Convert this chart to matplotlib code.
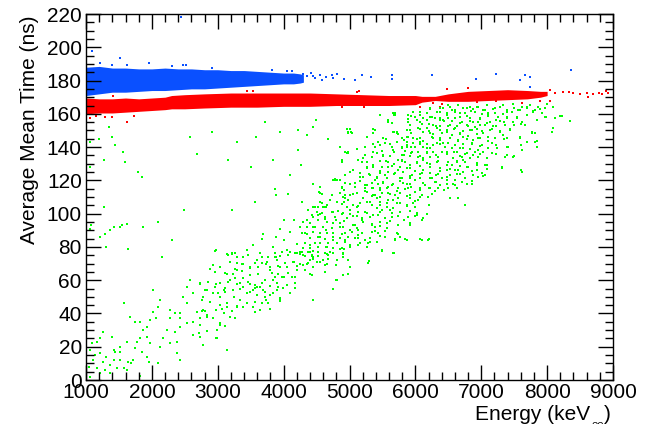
"""
Average mean time vs energy scatter, ROOT-like look.
"""

# %%
import matplotlib
matplotlib.use('Agg')
import matplotlib.pyplot as plt
from matplotlib.ticker import MultipleLocator

plt.rcParams['font.family'] = ['Liberation Sans', 'DejaVu Sans']

# %% data (energy in keV, time in ns)

# blue band: dense region edges
blue_e = [1000, 1200, 1400, 1600, 1800, 2000, 2200, 2400, 2600, 2800, 3000, 3200,
          3400, 3600, 3800, 4000, 4150, 4250, 4300]
blue_hi = [188, 188.5, 187.5, 187.5, 187, 187, 187.5, 187, 187, 186.5, 186.5, 186,
           186, 185.5, 185, 184.5, 184.5, 184, 183.5]
blue_lo = [171, 172, 173, 173, 173.5, 174, 174, 174.5, 175, 175, 175.5, 176,
           176.5, 177, 177.5, 178, 178, 178.5, 179]
# blue stray points
blue_pt_e = [2440, 1090, 1510, 1210, 1390, 1620, 1950, 2480, 2520, 2300, 2910, 3820,
             4050, 4120, 4300, 4420, 4550, 4730, 4810, 4650, 4480, 4580, 4920, 5080,
             4350, 4450, 4750, 5185, 5320, 5640, 5640, 6250, 6920, 7230, 7590, 7665,
             7740, 7740, 8360]
blue_pt_t = [218, 197.5, 193.5, 190.5, 189.5, 189.5, 190.5, 189.5, 189.5, 188.5, 187.5, 186.5,
             185.5, 185.5, 184, 184.5, 183.5, 183.5, 184, 182, 181.5, 180.5, 180.9, 180.3,
             182.5, 182.5, 181.5, 183.5, 182.3, 183.5, 180.9, 183.5, 180.9, 183.9, 180.3, 183.5,
             182.3, 176.3, 186.3]

# red band: dense region edges
red_e = [1000, 1200, 1400, 1600, 1800, 2000, 2200, 2300, 2500, 2800, 3200, 3600, 4000,
         4400, 4800, 5200, 5600, 6000, 6100, 6300, 6500, 6800, 7100, 7400, 7700, 7900, 8000]
red_hi = [169.5, 169, 169, 169.5, 169, 169.5, 170, 171, 171.5, 172, 172.5, 172.5, 172.5,
          172.5, 172, 171.5, 171, 171, 170.5, 170.5, 172, 173.5, 174, 174.5, 174, 173.5, 173.5]
red_lo = [160, 160.5, 160.5, 161, 161.5, 162, 162.5, 163, 163, 163.5, 164, 164, 164.5,
          164.5, 165, 165, 165, 165.5, 167, 168, 167.5, 167.5, 168, 168.5, 169, 170, 171]
# red stray points
red_pt_e = [1060, 1290, 1390, 1620, 1415, 3440, 3540, 5150, 5120, 6800, 6485, 8900,
            8930, 8625, 8830, 8600, 8040, 8240, 8400, 8500, 6070, 6270, 6400, 6940,
            7230, 7615, 7890, 8050, 5220, 4880, 6370, 8120, 8330, 8700, 8780, 1150, 1730]
red_pt_t = [157.3, 158.3, 158.3, 155.3, 170.5, 173.5, 174, 174, 173.3, 175.3, 174.7, 173.9,
            172.3, 170.3, 171.9, 172.3, 174.3, 173.3, 172.7, 171.9, 164.2, 166.8, 166.2, 167.2,
            167.6, 166.8, 167.6, 167.8, 164.2, 164.2, 164.2, 172.5, 173, 172, 172.5, 158.5, 158.5]

# green: upper-right part of the cloud
green_a_e = [6220, 6370, 6530, 6600, 6680, 6780, 6850, 6930, 7030, 7110, 7180, 7280, 7390, 7490, 7590, 7690, 7790, 7890,
             5670, 5690, 5890, 5940, 6020, 6070, 6120, 6250, 6370, 6480, 6600, 6780, 6980, 7110, 7230, 7390, 7540, 7690, 7840, 7990, 8200, 8220,
             5590, 5920, 6070, 6200, 6320, 6430, 6530, 6680, 6800, 6880, 6980, 7080, 7230, 7340, 7490, 7610, 8350,
             4960, 5010, 5360, 5670, 5720, 5870, 5940, 6070, 6200, 6270, 6370, 6480, 6580, 6680, 6830, 6930, 7030, 7130, 7290, 7440, 7770, 7820, 8070,
             5260, 5560, 5820, 5870, 6020, 6120, 6250, 6370, 6530, 6650, 6730, 6880, 6980, 7110, 7340, 7590, 7840,
             4860, 5360, 5460, 5620, 5790, 5870, 5940, 6070, 6170, 6270, 6370, 6450, 6600, 6730, 6860, 6980, 7110, 7230, 7390, 7610,
             4930, 4980, 5240, 5410, 5510, 5670, 5820, 5940, 6070, 6170, 6320, 6480, 6580, 6680, 6780, 6880, 7030, 7230, 7390, 7490]
green_a_t = [163, 161, 164, 162, 160.5, 163.5, 161.5, 164, 162, 160.5, 163, 164, 161, 163.5, 162, 164, 161.5, 163,
             159, 159, 157, 158.5, 156.5, 159, 157.5, 158, 156.5, 159, 157.5, 158.5, 157, 159, 156.5, 158, 157.5, 159, 156.5, 158, 158.5, 158.5,
             155, 153.5, 155, 154, 152.5, 155.5, 153.5, 154.5, 152.5, 155, 153.5, 154.5, 152.5, 155, 153, 154, 155.5,
             151, 151, 151, 149, 149, 150.5, 148.5, 151, 149.5, 148, 150.5, 149, 151, 148.5, 150, 151, 148.5, 150, 149, 151, 148.5, 148.5, 149,
             146, 145, 144, 146, 145, 143.5, 146, 144.5, 145.5, 143.5, 146, 144, 145.5, 143.5, 145, 146, 143.5,
             140, 142, 141, 142, 139.5, 141.5, 140, 142, 139.5, 141, 142, 140, 141.5, 139.5, 142, 140.5, 139.5, 141.5, 140, 141,
             137, 137, 135, 136.5, 134.5, 137, 135.5, 136.5, 134.5, 137, 135, 136, 137, 134.5, 136.5, 135, 137, 136, 135, 134.5]

# green: right-middle part of the cloud
green_b_e = [4880, 5190, 5360, 5560, 5670, 5790, 5920, 6020, 6120, 6220, 6350, 6480, 6630, 6730, 6930, 7080,
             5060, 5260, 5460, 5590, 5740, 5870, 5990, 6120, 6220, 6370, 6530, 6650, 6800, 6930, 7080, 7310, 7610,
             4930, 5160, 5290, 5410, 5540, 5670, 5790, 5920, 6070, 6220, 6320, 6480, 6630, 6750, 6880, 7030,
             4860, 5010, 5160, 5260, 5390, 5510, 5640, 5770, 5870, 5990, 6150, 6320, 6480, 6600, 6860,
             4910, 5080, 5240, 5360, 5460, 5590, 5720, 5840, 5940, 6070, 6200, 6300, 6430,
             4930, 5060, 5210, 5360, 5460, 5620, 5740, 5920, 6070, 6250, 6530, 6650,
             4880, 4980, 5130, 5310, 5460, 5590, 5720, 5870, 5990, 6200, 6750,
             4880, 5010, 5110, 5240, 5360, 5490, 5640, 5740, 5920, 6020, 6170,
             4910, 5080, 5190, 5340, 5460, 5620, 5820, 5920,
             4880, 5010, 5130, 5390, 5460, 5740,
             4930, 5130, 5310, 5690, 5840, 6070, 6200,
             4910, 5010, 5260, 5490, 5670, 4980, 5290, 4980]
green_b_t = [132, 131, 129.5, 131.5, 130, 132, 129.5, 131, 132, 130, 131.5, 129.5, 131, 132, 130.5, 129.5,
             126, 127.5, 125.5, 128, 126.5, 127.5, 125.5, 126.5, 128, 125.5, 127, 126, 128, 126.5, 127, 128, 126,
             123.5, 122, 124, 121.5, 123, 124, 121.5, 122.5, 124, 121.5, 123, 122, 124, 121.5, 123, 122.5,
             120, 118, 119.5, 117.5, 120, 118.5, 117.5, 119.5, 118, 120, 117.5, 119, 118, 117.5, 119.5,
             114, 116, 113.5, 115.5, 114, 116, 113.5, 115, 116, 114, 115.5, 113.5, 114.5,
             111, 112, 109.5, 111.5, 110, 112, 109.5, 111, 110, 112, 109.5, 109.5,
             106, 108, 104.5, 107, 105, 108, 106.5, 104.5, 107.5, 105, 105,
             100, 102, 98.5, 101, 99, 102, 100.5, 98.5, 101.5, 99, 100,
             95.5, 93, 96, 94, 92.5, 95.5, 96, 93,
             88, 90, 87, 89.5, 86.5, 87.5,
             84, 85.5, 83, 84.5, 85, 84.5, 84.5,
             79, 81, 80, 77.5, 76.5, 72, 71.5, 63.5]

# green: middle part of the cloud (3800-4900 keV)
green_c_e = [4780, 4880, 4550, 4530, 4700, 4550, 4450, 4650, 4910, 4750, 4550, 4450, 4350, 4630, 4800,
             4150, 4000, 4250, 4450, 4650, 4860, 3950, 4100, 4350, 4550, 4750, 3890, 4000, 4200, 4400,
             4650, 4860, 3840, 4050, 4250, 4450, 4680, 4900, 3890, 4150, 4350, 4550, 4800, 3950, 4200,
             4400, 4800, 4750, 4450, 4000, 3920, 4100, 4100, 4270, 4450, 4580, 3870, 3890, 4070, 4600, 4750]
green_c_t = [120, 116, 116, 113, 108, 107, 104, 104, 107, 101, 100, 98, 96, 97, 96,
             96, 96, 92, 92, 90, 92, 91, 89, 88, 86, 84, 86, 84, 82, 81,
             80, 79, 80, 78, 76, 74, 75, 76, 74, 71, 70, 71, 69, 68, 66,
             64, 60, 55, 48, 62, 56, 52, 123, 129, 118, 112, 115, 111, 112, 104, 120]

# green: lower-middle part of the cloud (2000-4000 keV)
green_d_e = [3690, 3670, 3540, 3440, 3290, 3140, 3210, 2930, 2880, 3030, 3140, 3290, 3390, 3490, 3590,
             3670, 3740, 3790, 3840, 3190, 3290, 3390, 3490, 3590, 3690, 3840, 3950, 2980, 2830, 3090,
             3240, 3340, 3440, 3540, 3740, 3640, 2580, 2530, 2730, 2630, 2480, 2780, 2930, 3030, 3140,
             3290, 3540, 2980, 3090, 3190,
             2530, 2430, 2680, 2780, 2830, 2280, 2350, 2120, 2100, 2020, 2070, 1970, 1920, 1820, 1740,
             1670, 1870, 2280, 2430, 2530, 2630, 2710, 2630, 2930, 3030, 2980, 2780, 2350, 2430, 2230,
             2170, 2280, 2380, 2380, 2120, 1970, 1920, 1820, 1770, 1740, 1850, 1920, 1950, 2100, 1720,
             1640, 1570, 2430, 3140]
green_d_t = [88, 85, 81, 78, 74, 76, 76, 69, 67, 68, 64, 66, 70, 68, 72,
             74, 70, 66, 60, 60, 58, 56, 58, 56, 54, 52, 48, 58, 54, 54,
             50, 48, 46, 54, 48, 42, 60, 56, 58, 52, 50, 50, 52, 50, 46,
             44, 44, 42, 40, 38,
             46, 40, 41, 42, 38, 42, 40, 48, 44, 41, 37, 36, 32, 35, 35,
             38, 30, 37, 37, 34, 35, 28, 27, 37, 33, 25, 21, 29, 32, 30,
             25, 22, 23, 16, 20, 22, 26, 25, 23, 19, 17, 14, 11, 10, 12,
             11, 7, 12, 18]

# green: lower-left corner of the cloud
green_e_e = [1620, 1520, 1420, 1390, 1260, 1210, 1160, 1090, 1060, 1140, 1210, 1310, 1420, 1520, 1360,
             1470, 1260, 1110, 1040, 1160, 1360, 1210, 1060, 1820, 1620, 1440, 1520, 1690, 1290]
green_e_t = [23, 20, 18, 26, 29, 25, 23, 22, 18, 15, 16, 14, 12, 12, 9,
             7, 11, 12, 8, 7, 4, 4, 2, 2.5, 6, 17, 17, 10, 6]

# green: stray points away from the cloud
green_f_e = [3500, 3840, 3150, 2680, 3290, 2580, 2920, 3580, 3560, 2970, 2490, 3210, 2300, 2160, 2090,
             1870, 1640, 1310, 1270, 1060, 1080, 1360, 1420, 1520, 1540, 1620, 1210, 1290, 1060, 1390,
             1440, 1560, 1590, 1790, 1850, 1270, 1060, 1190, 3940, 4220, 4350, 4680, 2010, 1570, 1350,
             3720, 4490, 4450, 4980, 5020, 4220]
green_f_t = [128, 132, 132, 136, 143, 146, 149, 146, 107, 78, 102, 102, 84, 74, 95,
             92, 79, 80, 104, 91, 93, 90, 92, 92, 93, 94, 86, 88, 143, 146,
             141, 137, 131, 125, 122, 132, 128, 145, 149, 138, 147, 145, 54, 46, 152,
             155, 156, 152, 149, 149, 150]

# green: extra points, 4700-6450 keV, 115-165 ns
green_g_e = [6222, 6374, 6424, 6323, 5969, 6070, 5665, 5691, 6171, 5463, 5893, 5994, 6222, 6298, 6374,
             5590, 5893, 6070, 6171, 6424, 5640, 5918, 6096, 6273, 6374, 6045, 6171, 6323, 5918, 5387,
             5362, 4982, 5033, 5665, 5716, 5741, 6121, 6222, 6399, 5893, 5969, 5792, 6070, 6273, 6374,
             5514, 5438, 5539, 5716, 5868, 5969, 6070, 6171, 6323, 6424, 5387, 5640, 5792, 5868, 5994,
             6121, 6222, 5235, 5109, 4957, 4982, 5362, 5488, 5665, 5843, 5944, 6045, 6171, 6273, 6399,
             5210, 5337, 5514, 5615, 5792, 5918, 6045, 6121, 6222, 6349, 5134, 4881, 5261, 5463, 5590,
             5741, 5792, 5843, 6020, 6171, 6323, 5261, 5362, 5488, 5640, 5767, 5918, 6070, 6222, 6374,
             5058, 5008, 5159, 5311, 5463, 5590, 5691, 5817, 5944, 6096, 6222, 6349, 5210, 5412, 5564,
             5767, 5918, 6070, 6247, 6399, 4780, 4805, 4932, 5084, 5235, 5337, 5438, 5514, 5665, 5817,
             5918, 6121, 6298, 6374, 4881, 5235, 5337, 5463, 5564, 5741, 5893, 6070, 6222, 6349]
green_g_t = [163.7, 163.7, 163.3, 161.3, 161.3, 161.3, 160.7, 160.7, 160.3, 159.3, 159.3, 158.3, 158.3, 157.3, 157.3,
             156.3, 155.3, 155.3, 156.3, 156.3, 154.3, 153.3, 153.7, 153.3, 152.9, 151.3, 151.3, 151.3, 150.3, 150.3,
             148.3, 148.7, 148.7, 149.3, 148.3, 147.7, 149.3, 148.3, 148.3, 146.3, 145.7, 145.7, 145.7, 145.7, 145.3,
             145.7, 143.3, 142.3, 143.3, 143.3, 142.3, 143.3, 141.7, 142.3, 142.3, 140.3, 140.3, 140.3, 140.3, 140.3,
             140.3, 139.7, 140.3, 138.7, 136.7, 136.7, 137.3, 137.7, 138.3, 137.7, 137.3, 136.9, 136.3, 136.9, 137.3,
             133.2, 134.2, 135.3, 134.6, 135.3, 134.8, 134.2, 133.2, 133.8, 134.2, 132.2, 131.2, 131.2, 131.6, 131.2,
             132.2, 131.6, 131.2, 130.2, 130.2, 131.2, 128.2, 128.2, 128.2, 128.8, 128.2, 127.6, 128.6, 128.2, 127.6,
             126.2, 125.2, 124.2, 123.2, 124.2, 124.8, 124.2, 124.8, 123.2, 124.2, 124.2, 123.8, 122.2, 122.2, 121.6,
             121.2, 121.2, 121.6, 121.6, 121.2, 120.6, 120.2, 118.2, 118.2, 117.2, 118.2, 117.6, 118.8, 117.6, 118.2,
             117.6, 118.2, 118.8, 117.2, 115.6, 115.6, 115.2, 115.6, 115.2, 115.6, 115.6, 115.6, 115.2, 115.2]

# green: extra points, 6450-8150 keV, 115-166 ns
green_h_e = [6501, 6652, 6830, 6956, 7083, 7209, 7336, 7487, 7614, 7740, 7867, 7993, 6551, 6728, 6880,
             7057, 7184, 7386, 7563, 7690, 7816, 7968, 8095, 6475, 6602, 6754, 6905, 7007, 7209, 7336,
             7462, 7791, 7917, 6501, 6678, 6830, 6981, 7108, 7260, 7386, 7538, 7968, 8120, 6551, 6703,
             6830, 6956, 7133, 7285, 7487, 7614, 6501, 6627, 6779, 6905, 7057, 7184, 7361, 7664, 8095,
             6475, 6602, 6728, 6855, 7007, 7158, 7285, 7437, 7766, 6551, 6678, 6804, 6931, 7108, 7336,
             7589, 6526, 6652, 6779, 6956, 7209, 7386, 6501, 6602, 6728, 6855, 7007, 7158, 7411, 7690,
             7816, 6551, 6678, 6830, 6956, 7108, 7234, 7842, 7614, 6475, 6627, 6754, 6905, 6981, 7158,
             7361, 7487, 6577, 6703, 6830, 6956, 7083, 6501, 6627, 6754, 6551, 6678, 6779, 6931, 7057,
             7310, 6475, 6602, 6728, 6855, 7007, 7614, 6526, 6678, 6956, 7057, 6475, 6602, 6703, 6577,
             6779, 6855, 6501, 6627]
green_h_t = [165.3, 165.3, 164.3, 164.3, 165.3, 163.7, 165.3, 165.7, 164.3, 165.3, 164.3, 165.7, 162.3, 163.3, 162.9,
             162.3, 162.9, 162.3, 162.3, 163.3, 162.3, 163.3, 164.3, 160.3, 160.9, 160.3, 161.3, 159.7, 160.3, 159.7,
             160.9, 160.9, 160.3, 157.7, 158.3, 157.7, 157.7, 158.9, 158.3, 157.7, 158.3, 158.3, 157.7, 155.7, 155.3,
             155.7, 155.3, 154.9, 155.7, 155.3, 154.9, 152.9, 152.9, 153.3, 152.3, 153.3, 152.9, 153.3, 153.3, 151.3,
             150.3, 151.3, 149.7, 150.3, 149.7, 150.9, 149.7, 150.3, 149.3, 147.3, 147.7, 146.9, 147.7, 146.3, 147.3,
             145.7, 145.3, 144.3, 144.9, 145.3, 145.3, 145.3, 142.3, 141.3, 141.7, 142.3, 141.3, 142.3, 140.3, 143.3,
             143.3, 139.3, 139.3, 138.9, 138.3, 139.7, 139.3, 140.3, 138.3, 136.9, 137.3, 135.7, 136.9, 135.7, 136.3,
             134.2, 134.2, 133.6, 134.2, 133.2, 134.2, 133.6, 131.2, 131.6, 130.8, 129.2, 128.8, 128.2, 129.2, 129.2,
             127.6, 126.2, 126.2, 125.2, 125.6, 124.2, 124.8, 123.2, 123.6, 122.2, 123.2, 120.2, 120.2, 118.8, 117.6,
             117.6, 117.6, 115.2, 115.6]

# green: extra points, 4250-6200 keV, 60-113 ns
green_i_e = [4553, 4730, 4856, 4907, 5008, 5109, 5261, 5337, 5388, 5489, 5590, 5691, 5767, 5868, 5995,
             6096, 6197, 4932, 5413, 5919, 4274, 4578, 4654, 4806, 4882, 4983, 5059, 5160, 5261, 5337,
             5463, 5565, 5666, 5767, 5868, 5969, 6045, 4477, 4527, 4629, 4957, 5109, 5413, 5565, 5666,
             5995, 4376, 4502, 4578, 4730, 4831, 4907, 5008, 5135, 5261, 5463, 5615, 5767, 5919, 6020,
             4426, 4527, 4629, 4780, 4957, 5059, 5185, 5312, 5438, 5539, 5640, 5894, 5995, 6121, 4300,
             4401, 4527, 4654, 4755, 4856, 5059, 5210, 5337, 5463, 5565, 5742, 5919, 6096, 4350, 4477,
             4603, 4730, 4907, 5109, 5388, 5565, 4274, 4325, 4451, 4553, 4654, 4755, 4932, 5033, 5135,
             5185, 5337, 5438, 5539, 5716, 4401, 4527, 4629, 4755, 4856, 4983, 5084, 5236, 5312, 5539,
             5767, 4325, 4477, 4553, 4679, 4806, 4932, 5160, 5286, 5413, 5691, 5868, 6096, 6197, 4300,
             4401, 4527, 4654, 4755, 4882, 5008, 5135, 4274, 4376, 4451, 4704, 4907, 5489, 5666, 4300,
             4426, 4527, 4654, 4755, 4907, 4401, 4502, 4603, 4806, 4983, 5286, 4300, 4451, 4654, 4325,
             4629, 5008, 4907, 4806]
green_i_t = [112.6, 111.2, 112.2, 110.2, 111.2, 112.2, 113.2, 110.6, 111.2, 112.2, 112.6, 111.2, 112.2, 110.6, 113.2,
             111.2, 110.2, 109.2, 109.2, 109.2, 107.2, 106.6, 105.2, 107.2, 105.8, 108.2, 105.2, 106.2, 107.2, 105.2,
             107.2, 106.2, 108.2, 106.6, 105.2, 106.2, 108.2, 104.2, 103.8, 103.8, 104.2, 103.8, 103.2, 103.8, 103.2,
             104.2, 102.2, 101.2, 100.2, 101.2, 101.8, 100.6, 99.8, 101.2, 100.2, 101.2, 102.2, 101.2, 101.8, 100.6,
             99.2, 99.2, 98.2, 98.2, 97.2, 98.6, 97.2, 98.2, 99.2, 97.2, 98.2, 98.2, 98.6, 97.2, 95.2,
             94.2, 96.2, 95.2, 94.2, 94.6, 93.2, 95.2, 93.2, 95.2, 94.6, 93.2, 94.2, 96.2, 92.2, 91.8,
             92.2, 91.2, 91.8, 91.2, 92.2, 91.2, 88.6, 88.2, 89.2, 88.2, 88.6, 88.2, 88.6, 89.2, 90.2,
             88.2, 89.2, 88.2, 89.8, 88.6, 85.2, 86.2, 84.6, 86.2, 85.2, 86.2, 85.2, 84.2, 85.2, 86.2,
             86.2, 82.6, 82.6, 82.2, 82.6, 82.2, 83.2, 82.6, 82.2, 83.2, 84.2, 84.2, 84.2, 84.2, 79.1,
             79.1, 79.7, 80.1, 79.1, 79.1, 80.1, 81.2, 77.1, 77.1, 77.7, 77.1, 76.5, 78.1, 76.5, 75.1,
             74.5, 74.5, 75.7, 76.1, 74.1, 72.1, 71.1, 72.1, 72.1, 72.1, 70.5, 69.1, 68.1, 69.7, 66.1,
             65.1, 67.7, 63.1, 60.1]

# green: extra points, 2700-4700 keV, 20-78 ns
green_j_e = [2959, 3212, 3262, 3642, 3870, 3971, 4097, 4173, 4249, 4401, 4527, 4629, 3161, 3389, 3465,
             3667, 3768, 3870, 3945, 4072, 4198, 4325, 4426, 4527, 2933, 3186, 3288, 3364, 3566, 3667,
             3743, 3895, 4021, 4148, 4249, 4376, 4451, 4629, 3262, 3490, 3617, 3794, 3920, 4047, 4198,
             4300, 4679, 2959, 3110, 3364, 3237, 3490, 3617, 3819, 3920, 4072, 4173, 4426, 3262, 3389,
             3718, 3870, 3971, 4122, 2731, 2858, 3035, 3161, 3338, 3465, 3566, 3667, 3794, 3895, 4047,
             4173, 2959, 3110, 3237, 3338, 3439, 3566, 3642, 3718, 3895, 3996, 4173, 2807, 3009, 3110,
             3490, 3591, 3718, 3794, 3945, 2756, 2883, 3338, 3566, 3667, 3768, 3945, 4451, 3035, 3136,
             3060, 3288, 3389, 2756, 2807, 3212, 3566, 3794, 2832, 2731, 2933, 3262, 3035, 2731, 3110,
             2832, 2984, 2731, 2984, 2782]
green_j_t = [77.7, 76.5, 76.5, 76.1, 76.5, 77.1, 77.1, 76.5, 77.1, 77.1, 77.1, 76.5, 75.1, 73.7, 75.1,
             74.1, 73.7, 74.1, 74.5, 75.1, 76.1, 74.5, 75.1, 74.5, 69.1, 71.1, 70.5, 69.7, 70.5, 70.1,
             71.1, 72.1, 70.5, 71.1, 69.7, 70.1, 72.5, 69.1, 66.5, 67.1, 68.1, 67.7, 68.5, 68.1, 68.5,
             69.1, 72.5, 65.1, 64.5, 65.7, 63.7, 63.1, 63.7, 64.5, 63.7, 64.5, 62.1, 63.1, 61.1, 61.1,
             60.1, 62.1, 61.7, 62.1, 58.5, 58.7, 58.5, 58.7, 58.1, 59.1, 57.1, 58.1, 56.5, 58.1, 57.1,
             58.1, 55.7, 55.1, 54.1, 54.5, 52.1, 55.1, 56.1, 53.1, 54.1, 55.1, 55.1, 54.1, 52.1, 53.1,
             53.1, 51.1, 50.1, 51.1, 49.1, 48.1, 47.1, 48.1, 47.1, 46.1, 46.1, 47.7, 48.1, 45.1, 43.7,
             42.5, 44.5, 43.7, 41.6, 41.6, 41.6, 41.0, 42.5, 39.0, 37.0, 37.0, 37.0, 34.4, 33.0, 32.4,
             29.6, 30.0, 25.6, 25.0, 21.0]

# %% plot
fig = plt.figure(figsize=(6.47, 4.24), dpi=100)
ax = fig.add_axes([86 / 647, 1 - 380 / 424, 527 / 647, 366 / 424])

blue = '#0a50ff'
red = '#ff0000'
green = '#00ff00'
msize = 3.2

ax.fill_between(blue_e, blue_lo, blue_hi, color=blue, lw=0)
ax.scatter(blue_pt_e, blue_pt_t, s=msize, marker='s', color=blue, lw=0, antialiased=False)

ax.fill_between(red_e, red_lo, red_hi, color=red, lw=0)
ax.scatter(red_pt_e, red_pt_t, s=msize, marker='s', color=red, lw=0, antialiased=False)

for ge, gt in [(green_a_e, green_a_t), (green_b_e, green_b_t), (green_c_e, green_c_t),
               (green_d_e, green_d_t), (green_e_e, green_e_t), (green_f_e, green_f_t),
               (green_g_e, green_g_t), (green_h_e, green_h_t), (green_i_e, green_i_t),
               (green_j_e, green_j_t)]:
  ax.scatter(ge, gt, s=msize, marker='s', color=green, lw=0, antialiased=False)

ax.set_xlim(1000, 9000)
ax.set_ylim(0, 220)
ax.xaxis.set_major_locator(MultipleLocator(1000))
ax.xaxis.set_minor_locator(MultipleLocator(200))
ax.yaxis.set_major_locator(MultipleLocator(20))
ax.yaxis.set_minor_locator(MultipleLocator(5))
ax.tick_params(which='both', direction='in', top=True, right=True, width=1, labelsize=15)
ax.tick_params(which='major', length=11)
ax.tick_params(which='minor', length=5.5)
ax.tick_params(axis='x', pad=2)
ax.tick_params(axis='y', pad=3)
for sp in ax.spines.values():
  sp.set_linewidth(1)

fig.text(30 / 647, 1 - 15 / 424, 'Average Mean Time (ns)', rotation=90,
         ha='center', va='top', fontsize=15)
# x title: subscript "ee" drops below the figure edge, as in the reference
fig.text(590 / 647, 1 - 420 / 424, 'Energy (keV', ha='right', va='baseline', fontsize=15)
fig.text(591 / 647, 1 - 428 / 424, 'ee', ha='left', va='baseline', fontsize=8)
fig.text(604 / 647, 1 - 420 / 424, ')', ha='left', va='baseline', fontsize=15)

fig.savefig('out.png', dpi=100)
